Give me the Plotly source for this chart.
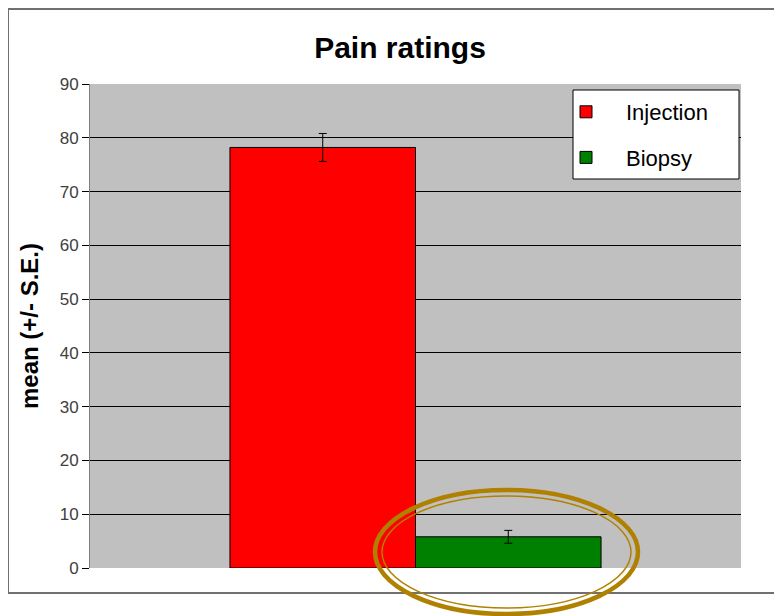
import plotly.graph_objects as go

# Data
categories = [""]
series_names = ["Injection", "Biopsy"]
series_means = [78.2, 5.8]
series_se = [2.6, 1.2]
series_colors = ["#FF0000", "#008000"]
y_ticks = [0, 10, 20, 30, 40, 50, 60, 70, 80, 90]

# The page body adds an 8px offset, so work in reference pixels minus 8
OFF = 8
W, H = 782 - OFF, 616 - OFF
L, R, T, B = 90 - OFF, 741 - OFF, 84 - OFF, 568 - OFF


def px_x(px):
    return (px - OFF - L) / (R - L)


def px_y(py):
    return (B - (py - OFF)) / (B - T)


fig = go.Figure()

for name, mean, se, color in zip(series_names, series_means, series_se, series_colors):
    fig.add_trace(
        go.Bar(
            x=categories,
            y=[mean],
            name=name,
            legendgroup=name,
            marker=dict(color=color, line=dict(color='black', width=1)),
            error_y=dict(type='data', array=[se], color='black', thickness=1, width=4),
        )
    )

shapes = [
    # outer chart border
    dict(type='rect', xref='paper', yref='paper',
         x0=px_x(8), x1=px_x(790), y0=px_y(593), y1=px_y(9),
         line=dict(color='#707070', width=2), layer='below'),
    # legend box
    dict(type='rect', xref='paper', yref='paper',
         x0=px_x(573), x1=px_x(739), y0=px_y(179), y1=px_y(90),
         fillcolor='white', line=dict(color='black', width=1), layer='above'),
    # double gold ellipse around the biopsy bar
    dict(type='circle', xref='paper', yref='paper',
         x0=px_x(375), x1=px_x(638), y0=px_y(614), y1=px_y(490),
         line=dict(color='#B08000', width=4.5)),
    dict(type='circle', xref='paper', yref='paper',
         x0=px_x(382), x1=px_x(631), y0=px_y(608), y1=px_y(496),
         line=dict(color='#B08000', width=1.5)),
]

fig.update_layout(
    width=W,
    height=H,
    margin=dict(l=L, r=W - R, t=T, b=H - B),
    paper_bgcolor='white',
    plot_bgcolor='#C0C0C0',
    font=dict(family='Arial, Liberation Sans, sans-serif', color='black'),
    title=dict(text='<b>Pain ratings</b>', x=(400 - OFF) / W, xanchor='center',
               y=1 - (47 - OFF) / H, yanchor='middle', font=dict(size=30)),
    barmode='group',
    bargap=0.43,
    bargroupgap=0,
    showlegend=True,
    legend=dict(
        x=px_x(546), y=px_y(91), xanchor='left', yanchor='top',
        bgcolor='rgba(0,0,0,0)', borderwidth=0,
        font=dict(size=22), tracegroupgap=14, itemwidth=70,
    ),
    xaxis=dict(showticklabels=False, showgrid=False, zeroline=False,
               showline=False, ticks=''),
    yaxis=dict(
        range=[0, 90],
        tickvals=y_ticks,
        showgrid=True, gridcolor='black', gridwidth=1,
        zeroline=False,
        showline=True, linecolor='#808080', linewidth=1,
        ticks='outside', ticklen=7, tickcolor='black',
        tickfont=dict(size=17, color='#404040'),
        title=dict(text='<b>mean (+/- S.E.)</b>', font=dict(size=24), standoff=14),
    ),
    shapes=shapes,
)

fig.write_html("out.html")
